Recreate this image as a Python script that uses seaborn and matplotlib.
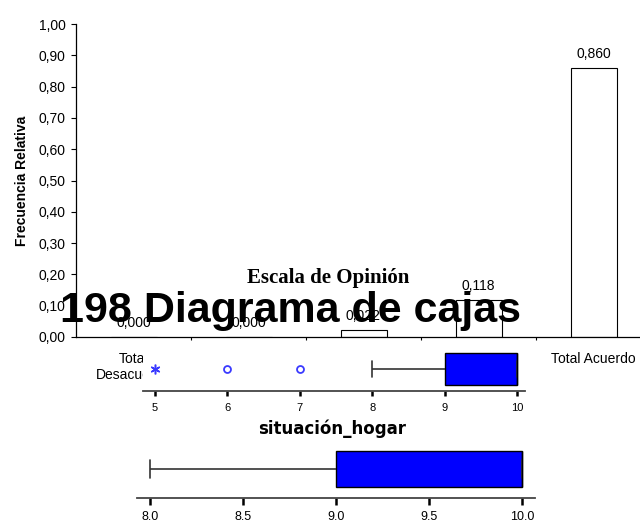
import matplotlib
matplotlib.use("Agg")
import matplotlib.pyplot as plt
import seaborn as sns
import numpy as np
import pandas as pd

# Escala de opinión (frecuencia relativa)
categorias = ['Total\nDesacuerdo', 'Desacuerdo', 'Indiferente', 'Acuerdo', 'Total Acuerdo']
frecuencia = [0.000, 0.000, 0.022, 0.118, 0.860]

# situación_hogar: valores y cuántas veces aparecen
valores_hogar = [5, 6, 7, 8, 9, 10]
conteos_hogar = [1, 1, 1, 4, 30, 50]

# segundo diagrama de cajas (sin atípicos)
valores_hogar2 = [8, 9, 10]
conteos_hogar2 = [3, 20, 30]

ticks_caja1 = [5, 6, 7, 8, 9, 10]
ticks_caja2 = [8.0, 8.5, 9.0, 9.5, 10.0]

sns.set_style('white')
plt.rcParams['font.family'] = ['Liberation Sans', 'DejaVu Sans']
plt.rcParams['text.color'] = 'black'
plt.rcParams['axes.labelcolor'] = 'black'
plt.rcParams['xtick.color'] = 'black'
plt.rcParams['ytick.color'] = 'black'

W, H = 640, 524
fig = plt.figure(figsize=(6.4, 5.24), dpi=100)
fig.patch.set_facecolor('white')

def caja(x0, y0, x1, y1):
    # rectángulo en píxeles (origen arriba a la izquierda) -> coords de figura
    return [x0 / W, (H - y1) / H, (x1 - x0) / W, (y1 - y0) / H]

# ---- gráfico de barras ----
ax = fig.add_axes(caja(76, 24, 651, 337))
df = pd.DataFrame({'categoria': categorias, 'frecuencia': frecuencia})
sns.barplot(data=df, x='categoria', y='frecuencia', color='white',
            edgecolor='black', linewidth=0.8, width=0.4, saturation=1, ax=ax)
ax.bar_label(ax.containers[0],
             labels=[f'{v:.3f}'.replace('.', ',') for v in frecuencia],
             padding=5, fontsize=10, color='black')
ax.set_xlim(-0.5, 4.5)
ax.set_ylim(0, 1)
yt = np.round(np.arange(0, 1.01, 0.1), 2)
ax.set_yticks(yt)
ax.set_yticklabels([f'{t:.2f}'.replace('.', ',') for t in yt], fontsize=10)
ax.set_xticks([0.5, 1.5, 2.5, 3.5])
ax.set_xticklabels([])
ax.set_xticks(range(len(categorias)), minor=True)
ax.set_xticklabels(categorias, minor=True, fontsize=10)
ax.tick_params(axis='x', which='major', length=2, width=0.8, direction='out', bottom=True)
ax.tick_params(axis='x', which='minor', length=0, pad=11, bottom=True)
ax.tick_params(axis='y', length=3.6, width=0.8, pad=4, left=True)
ax.set_xlabel('')
ax.set_ylabel('Frecuencia Relativa', fontweight='bold', fontsize=10, labelpad=7)
for s in ['top', 'right']:
    ax.spines[s].set_visible(False)
for s in ['left', 'bottom']:
    ax.spines[s].set_color('black')
    ax.spines[s].set_linewidth(0.9)

fig.text(328 / W, (H - 283) / H, 'Escala de Opinión', ha='center', va='baseline',
         family='Liberation Serif', fontweight='bold', fontsize=15)
fig.text(60 / W, (H - 322) / H, '198 Diagrama de cajas', ha='left', va='baseline',
         family='Liberation Sans', fontweight='bold', fontsize=31)


def diagrama(axb, valores, conteos, xlim, ylim, ticks, fmt, size, tlen, tpad):
    datos = np.repeat(valores, conteos).astype(float)
    sns.boxplot(x=datos, ax=axb, color='#0000FF', saturation=1, width=0.8,
                showfliers=False, linecolor='black', linewidth=1,
                whiskerprops={'color': '#333333', 'linewidth': 1.2},
                capprops={'color': '#333333', 'linewidth': 1.2})
    q1, q3 = np.percentile(datos, [25, 75])
    iqr = q3 - q1
    leves = np.unique(datos[(datos < q1 - 1.5 * iqr) & (datos >= q1 - 3 * iqr)])
    extremos = np.unique(datos[datos < q1 - 3 * iqr])
    axb.plot(leves, np.zeros(len(leves)), 'o', mfc='none', mec='#3a3aff', ms=5, mew=1.3)
    axb.plot(extremos, np.zeros(len(extremos)), marker=(6, 2, 0), ls='none',
             color='#3a3aff', ms=7, mew=1.1)
    axb.set_xlim(*xlim)
    axb.set_ylim(*ylim)
    axb.set_yticks([])
    axb.set_xticks(ticks)
    axb.set_xticklabels([fmt.format(t) for t in ticks], fontsize=size)
    axb.tick_params(axis='x', length=tlen, width=1.8, pad=tpad, bottom=True, color='black')
    axb.set_xlabel('')
    axb.set_ylabel('')
    axb.set_facecolor('white')
    for s in ['top', 'right', 'left']:
        axb.spines[s].set_visible(False)
    axb.spines['bottom'].set_color('#444444')
    axb.spines['bottom'].set_linewidth(1.3)


# ---- diagrama de cajas 1 ----
ax1 = fig.add_axes(caja(143, 345, 525, 391))
diagrama(ax1, valores_hogar, conteos_hogar, (4.834, 10.11), (0.55, -0.6),
         ticks_caja1, '{:d}', 8, 3.6, 5)

fig.text(332 / W, (H - 434) / H, 'situación_hogar', ha='center', va='baseline',
         family='DejaVu Sans', fontweight='bold', fontsize=12)

# ---- diagrama de cajas 2 ----
ax2 = fig.add_axes(caja(137, 440, 535, 498))
diagrama(ax2, valores_hogar2, conteos_hogar2, (7.930, 10.070), (0.644, -0.644),
         ticks_caja2, '{:.1f}', 9, 5, 4)

fig.savefig('out.png', dpi=100)
